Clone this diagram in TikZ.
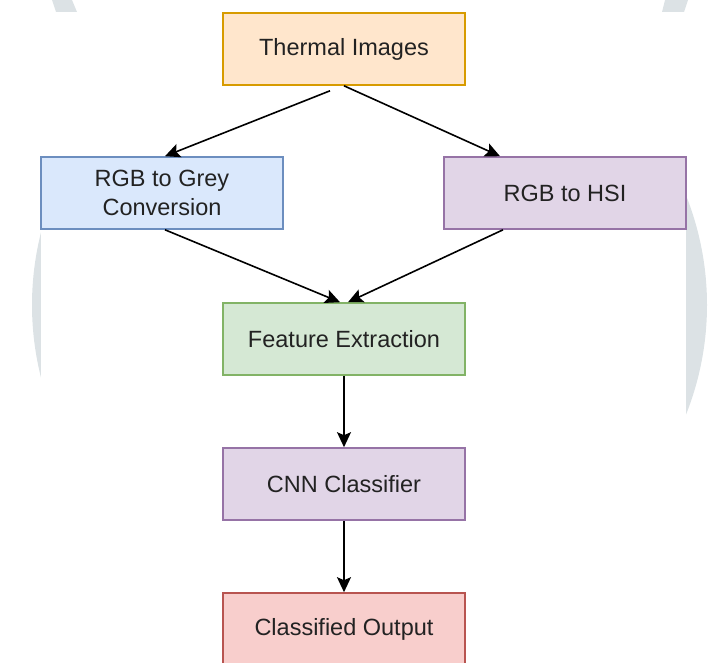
\documentclass[tikz,border=0pt]{standalone}
\usepackage{fontspec}
\setmainfont{Liberation Sans}
\usetikzlibrary{arrows.meta}
\definecolor{wmgray}{RGB}{220,226,229}
\definecolor{orfill}{HTML}{FFE6CC}\definecolor{ordraw}{HTML}{D79B00}
\definecolor{blfill}{HTML}{DAE8FC}\definecolor{bldraw}{HTML}{6C8EBF}
\definecolor{pufill}{HTML}{E1D5E7}\definecolor{pudraw}{HTML}{9673A6}
\definecolor{grfill}{HTML}{D5E8D4}\definecolor{grdraw}{HTML}{82B366}
\definecolor{rdfill}{HTML}{F8CECC}\definecolor{rddraw}{HTML}{B85450}
\definecolor{txt}{HTML}{222222}
\tikzset{
  flowbox/.style={rectangle, minimum width=242pt, minimum height=72pt, line width=1.6pt,
    inner sep=0pt, align=center, text=txt, font=\fontsize{23.5}{29}\selectfont},
  flowarrow/.style={line width=1.6pt, -{Stealth[length=15pt,width=14pt,inset=3pt]}}
}
\begin{document}
\begin{tikzpicture}[x=1pt,y=-1pt]
\useasboundingbox (0,0) rectangle (713,663);
% watermark background
\fill[wmgray] (52,0) -- (72,0) -- (77,12) -- (56,12) -- cycle;
\fill[wmgray] (665,0) -- (688,0) -- (684,12) -- (662,12) -- cycle;
\begin{scope}
  \clip (0,150) rectangle (713,460);
  \fill[wmgray] (369.5,305) ellipse [x radius=337.5, y radius=315];
\end{scope}
\fill[white] (41,12) rectangle (686,663);
% nodes
\node[flowbox, fill=orfill, draw=ordraw] (thermal) at (344,49) {Thermal Images};
\node[flowbox, fill=blfill, draw=bldraw] (grey) at (162,193) {RGB to Grey\\Conversion};
\node[flowbox, fill=pufill, draw=pudraw] (hsi) at (565,193) {RGB to HSI};
\node[flowbox, fill=grfill, draw=grdraw] (feat) at (344,339) {Feature Extraction};
\node[flowbox, fill=pufill, draw=pudraw] (cnn) at (344,484) {CNN Classifier};
\node[flowbox, fill=rdfill, draw=rddraw] (out) at (344,629) {Classified Output};
% connectors
\draw[flowarrow] ([xshift=-14pt,yshift=-5pt]thermal.south) -- ([xshift=3pt]grey.north);
\draw[flowarrow] (thermal.south) -- ([xshift=-65pt]hsi.north);
\draw[flowarrow] ([xshift=3pt]grey.south) -- ([xshift=-4pt]feat.north);
\draw[flowarrow] ([xshift=-62pt]hsi.south) -- ([xshift=4pt]feat.north);
\draw[flowarrow] (feat.south) -- (cnn.north);
\draw[flowarrow] (cnn.south) -- (out.north);
\end{tikzpicture}
\end{document}
